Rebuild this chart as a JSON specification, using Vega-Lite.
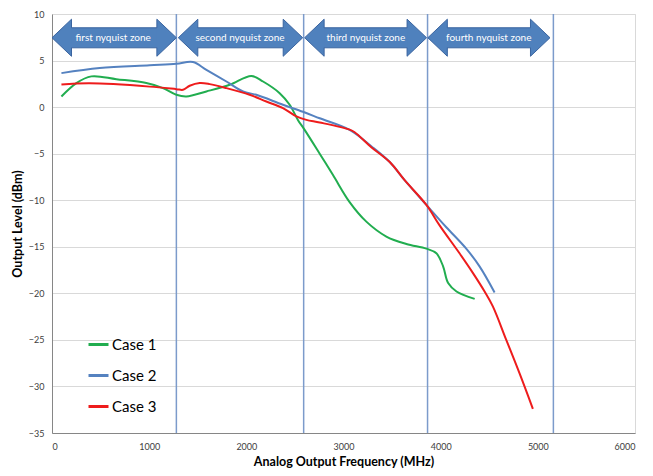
{
  "$schema": "https://vega.github.io/schema/vega-lite/v6.json",
  "width": 583,
  "height": 419,
  "autosize": {"type": "none"},
  "padding": {"left": 52, "top": 14, "right": 18, "bottom": 43},
  "background": "white",
  "config": {
    "font": "Lato",
    "view": {"stroke": "#D9D9D9", "strokeWidth": 1}
  },
  "datasets": {
    "curves": [
      {"case": "Case 1", "f": 97, "v": 1.14},
      {"case": "Case 1", "f": 251, "v": 2.58},
      {"case": "Case 1", "f": 405, "v": 3.3},
      {"case": "Case 1", "f": 663, "v": 3.0},
      {"case": "Case 1", "f": 971, "v": 2.58},
      {"case": "Case 1", "f": 1142, "v": 2.04},
      {"case": "Case 1", "f": 1280, "v": 1.32},
      {"case": "Case 1", "f": 1383, "v": 1.14},
      {"case": "Case 1", "f": 1589, "v": 1.68},
      {"case": "Case 1", "f": 1829, "v": 2.4},
      {"case": "Case 1", "f": 2052, "v": 3.35},
      {"case": "Case 1", "f": 2172, "v": 2.75},
      {"case": "Case 1", "f": 2343, "v": 1.5},
      {"case": "Case 1", "f": 2446, "v": 0.25},
      {"case": "Case 1", "f": 2532, "v": -1.4},
      {"case": "Case 1", "f": 2600, "v": -2.44},
      {"case": "Case 1", "f": 2755, "v": -5.0},
      {"case": "Case 1", "f": 2892, "v": -7.3},
      {"case": "Case 1", "f": 3063, "v": -10.2},
      {"case": "Case 1", "f": 3235, "v": -12.3},
      {"case": "Case 1", "f": 3441, "v": -13.9},
      {"case": "Case 1", "f": 3647, "v": -14.7},
      {"case": "Case 1", "f": 3853, "v": -15.2},
      {"case": "Case 1", "f": 3956, "v": -15.7},
      {"case": "Case 1", "f": 4025, "v": -17.1},
      {"case": "Case 1", "f": 4077, "v": -18.9},
      {"case": "Case 1", "f": 4163, "v": -19.8},
      {"case": "Case 1", "f": 4350, "v": -20.6},
      {"case": "Case 2", "f": 97, "v": 3.65},
      {"case": "Case 2", "f": 491, "v": 4.2},
      {"case": "Case 2", "f": 1005, "v": 4.5},
      {"case": "Case 2", "f": 1280, "v": 4.66},
      {"case": "Case 2", "f": 1451, "v": 4.84},
      {"case": "Case 2", "f": 1589, "v": 4.0},
      {"case": "Case 2", "f": 1795, "v": 2.75},
      {"case": "Case 2", "f": 1966, "v": 1.68},
      {"case": "Case 2", "f": 2103, "v": 1.32},
      {"case": "Case 2", "f": 2377, "v": 0.25},
      {"case": "Case 2", "f": 2583, "v": -0.5},
      {"case": "Case 2", "f": 2755, "v": -1.2},
      {"case": "Case 2", "f": 3063, "v": -2.45},
      {"case": "Case 2", "f": 3286, "v": -4.2},
      {"case": "Case 2", "f": 3476, "v": -5.9},
      {"case": "Case 2", "f": 3629, "v": -7.85},
      {"case": "Case 2", "f": 3853, "v": -10.5},
      {"case": "Case 2", "f": 4058, "v": -12.9},
      {"case": "Case 2", "f": 4263, "v": -15.2},
      {"case": "Case 2", "f": 4400, "v": -17.1},
      {"case": "Case 2", "f": 4555, "v": -19.9},
      {"case": "Case 3", "f": 97, "v": 2.42},
      {"case": "Case 3", "f": 388, "v": 2.55},
      {"case": "Case 3", "f": 1005, "v": 2.2},
      {"case": "Case 3", "f": 1280, "v": 1.93},
      {"case": "Case 3", "f": 1348, "v": 1.86},
      {"case": "Case 3", "f": 1417, "v": 2.29},
      {"case": "Case 3", "f": 1520, "v": 2.58},
      {"case": "Case 3", "f": 1623, "v": 2.47},
      {"case": "Case 3", "f": 1795, "v": 2.04},
      {"case": "Case 3", "f": 2034, "v": 1.32},
      {"case": "Case 3", "f": 2206, "v": 0.6},
      {"case": "Case 3", "f": 2377, "v": -0.1},
      {"case": "Case 3", "f": 2515, "v": -1.0},
      {"case": "Case 3", "f": 2618, "v": -1.37},
      {"case": "Case 3", "f": 2755, "v": -1.65},
      {"case": "Case 3", "f": 3063, "v": -2.42},
      {"case": "Case 3", "f": 3115, "v": -2.7},
      {"case": "Case 3", "f": 3286, "v": -4.3},
      {"case": "Case 3", "f": 3476, "v": -5.9},
      {"case": "Case 3", "f": 3629, "v": -7.85},
      {"case": "Case 3", "f": 3853, "v": -10.5},
      {"case": "Case 3", "f": 3989, "v": -12.7},
      {"case": "Case 3", "f": 4194, "v": -15.7},
      {"case": "Case 3", "f": 4331, "v": -17.8},
      {"case": "Case 3", "f": 4452, "v": -19.8},
      {"case": "Case 3", "f": 4537, "v": -21.4},
      {"case": "Case 3", "f": 4675, "v": -25.0},
      {"case": "Case 3", "f": 4812, "v": -28.6},
      {"case": "Case 3", "f": 4949, "v": -32.4}
    ],
    "bounds": [
      {"f": 1280},
      {"f": 2590},
      {"f": 3865},
      {"f": 5160}
    ],
    "zones": [
      {"zone": "first nyquist zone", "start": 0, "end": 1280, "mid": 630},
      {"zone": "second nyquist zone", "start": 1300, "end": 2580, "mid": 1935},
      {"zone": "third nyquist zone", "start": 2600, "end": 3855, "mid": 3230},
      {"zone": "fourth nyquist zone", "start": 3868, "end": 5125, "mid": 4495}
    ]
  },
  "layer": [
    {
      "data": {"name": "bounds"},
      "mark": {"type": "rule", "color": "#7C9BCB", "strokeWidth": 1.5},
      "encoding": {
        "x": {"field": "f", "type": "quantitative", "scale": {"domain": [0, 6000]}}
      }
    },
    {
      "data": {"name": "curves"},
      "mark": {"type": "line", "interpolate": "catmull-rom", "strokeWidth": 2},
      "encoding": {
        "x": {
          "field": "f",
          "type": "quantitative",
          "scale": {"domain": [0, 6000], "nice": false},
          "axis": {
            "title": "Analog Output Frequency (MHz)",
            "values": [0, 1000, 2000, 3000, 4000, 5000, 6000],
            "format": "d",
            "grid": false,
            "ticks": false,
            "domainColor": "#868686",
            "labelFontSize": 9,
            "labelColor": "#404040",
            "labelPadding": 9,
            "titleFontSize": 12.5,
            "titleFontWeight": "bold",
            "titleColor": "black",
            "titlePadding": 4
          }
        },
        "y": {
          "field": "v",
          "type": "quantitative",
          "scale": {"domain": [-35, 10], "nice": false},
          "axis": {
            "title": "Output Level (dBm)",
            "values": [-35, -30, -25, -20, -15, -10, -5, 0, 5, 10],
            "grid": true,
            "gridColor": "#D9D9D9",
            "ticks": false,
            "domainColor": "#868686",
            "labelFontSize": 9,
            "labelColor": "#404040",
            "labelPadding": 8,
            "titleFontSize": 12.5,
            "titleFontWeight": "bold",
            "titleColor": "black",
            "titlePadding": 4
          }
        },
        "color": {
          "field": "case",
          "type": "nominal",
          "scale": {
            "domain": ["Case 1", "Case 2", "Case 3"],
            "range": ["#21AD4F", "#5582C0", "#EE1C1C"]
          },
          "legend": {
            "orient": "none",
            "legendX": 35,
            "legendY": 319,
            "title": null,
            "symbolType": "stroke",
            "symbolSize": 400,
            "symbolStrokeWidth": 3,
            "labelFontSize": 15,
            "labelColor": "black",
            "labelOffset": 2,
            "rowPadding": 11
          }
        }
      }
    },
    {
      "data": {"name": "zones"},
      "mark": {
        "type": "rect",
        "xOffset": 15,
        "x2Offset": -15,
        "fill": "#4F81BD",
        "stroke": "#3A64A0",
        "strokeWidth": 1
      },
      "encoding": {
        "x": {"field": "start", "type": "quantitative"},
        "x2": {"field": "end"},
        "y": {"datum": 8.52, "type": "quantitative"},
        "y2": {"datum": 6.37}
      }
    },
    {
      "data": {"name": "zones"},
      "mark": {
        "type": "point",
        "shape": "M1,-0.51L1,-0.95L0,0L1,0.95L1,0.51",
        "size": 1521,
        "filled": true,
        "fill": "#4F81BD",
        "stroke": "#3A64A0",
        "strokeWidth": 1,
        "opacity": 1
      },
      "encoding": {
        "x": {"field": "start", "type": "quantitative"},
        "y": {"datum": 7.45, "type": "quantitative"}
      }
    },
    {
      "data": {"name": "zones"},
      "mark": {
        "type": "point",
        "shape": "M-1,-0.51L-1,-0.95L0,0L-1,0.95L-1,0.51",
        "size": 1521,
        "filled": true,
        "fill": "#4F81BD",
        "stroke": "#3A64A0",
        "strokeWidth": 1,
        "opacity": 1
      },
      "encoding": {
        "x": {"field": "end", "type": "quantitative"},
        "y": {"datum": 7.45, "type": "quantitative"}
      }
    },
    {
      "data": {"name": "zones"},
      "mark": {
        "type": "text",
        "color": "white",
        "fontSize": 10,
        "align": "center",
        "baseline": "middle"
      },
      "encoding": {
        "x": {"field": "mid", "type": "quantitative"},
        "y": {"datum": 7.45, "type": "quantitative"},
        "text": {"field": "zone"}
      }
    }
  ]
}
